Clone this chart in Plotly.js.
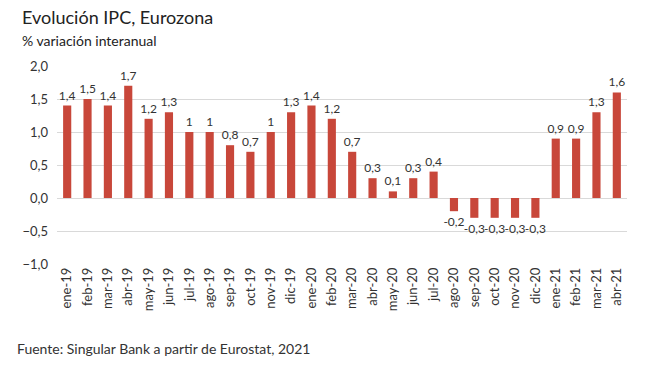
<!DOCTYPE html>
<html><head><meta charset="utf-8">
<script src="https://cdn.plot.ly/plotly-3.0.1.min.js"></script>
<style>body{margin:0;background:#fff}#c{width:650px;height:366px}</style>
</head><body><div id="c"></div>
<script>
const categories = ["ene-19","feb-19","mar-19","abr-19","may-19","jun-19","jul-19","ago-19","sep-19","oct-19","nov-19","dic-19",
  "ene-20","feb-20","mar-20","abr-20","may-20","jun-20","jul-20","ago-20","sep-20","oct-20","nov-20","dic-20",
  "ene-21","feb-21","mar-21","abr-21"];
const values = [1.4,1.5,1.4,1.7,1.2,1.3,1.0,1.0,0.8,0.7,1.0,1.3,
  1.4,1.2,0.7,0.3,0.1,0.3,0.4,-0.2,-0.3,-0.3,-0.3,-0.3,
  0.9,0.9,1.3,1.6];
const labels = ["1,4","1,5","1,4","1,7","1,2","1,3","1","1","0,8","0,7","1","1,3",
  "1,4","1,2","0,7","0,3","0,1","0,3","0,4","-0,2","-0,3","-0,3","-0,3","-0,3",
  "0,9","0,9","1,3","1,6"];
const yTicks = [-1.0,-0.5,0.0,0.5,1.0,1.5,2.0];

const font = "Lato, 'Open Sans', sans-serif";
const trace = {
  type: "bar", x: categories, y: values, text: labels,
  textposition: "outside", cliponaxis: false, constraintext: "none",
  textfont: {family: font, size: 12, color: "#333"},
  marker: {color: "#C8473A"}, hoverinfo: "none"
};
const layout = {
  width: 650, height: 366,
  margin: {l: 57, r: 23, t: 66, b: 102},
  paper_bgcolor: "#fff", plot_bgcolor: "#fff",
  separators: ",.",
  bargap: 0.6,
  showlegend: false,
  font: {family: font, color: "#333"},
  xaxis: {type: "category", tickangle: -90, tickfont: {size: 13, color: "#333"},
    showgrid: false, showline: false, ticks: "", automargin: false},
  yaxis: {range: [-1.0, 2.0], tickvals: yTicks, tickformat: ".1f",
    tickfont: {size: 13, color: "#333"}, gridcolor: "#d9d9d9", zeroline: true,
    zerolinecolor: "#d9d9d9", zerolinewidth: 1, showline: false, ticks: "", automargin: false, ticklabelstandoff: 8},
  annotations: [
    {text: "Evolución IPC, Eurozona", xref: "paper", yref: "paper", x: -0.065, y: 1.247,
     xanchor: "left", yanchor: "middle", showarrow: false, font: {size: 18, color: "#222", family: font}},
    {text: "% variación interanual", xref: "paper", yref: "paper", x: -0.065, y: 1.131,
     xanchor: "left", yanchor: "middle", showarrow: false, font: {size: 14, color: "#222", family: font}},
    {text: "Fuente: Singular Bank a partir de Eurostat, 2021", xref: "paper", yref: "paper", x: -0.073, y: -0.429,
     xanchor: "left", yanchor: "middle", showarrow: false, font: {size: 14, color: "#333", family: font}}
  ]
};
Plotly.newPlot("c", [trace], layout, {staticPlot: true, displayModeBar: false});
</script></body></html>
